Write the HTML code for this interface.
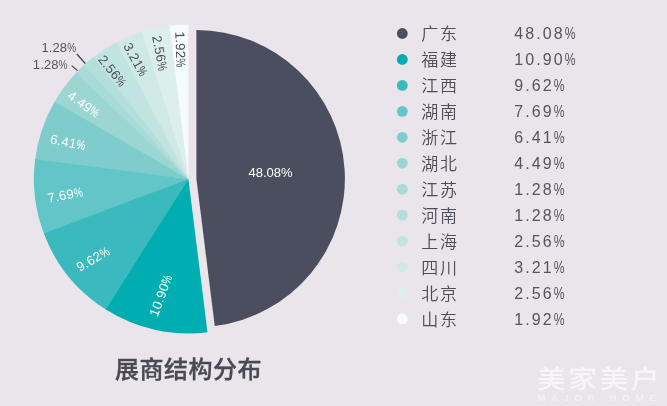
<!DOCTYPE html>
<html lang="zh-CN"><head><meta charset="utf-8"><title>展商结构分布</title>
<style>
html,body{margin:0;padding:0;background:#e9e5ea;}
body{width:667px;height:406px;overflow:hidden;position:relative;font-family:"Liberation Sans","Noto Sans CJK SC",sans-serif;}
svg{position:absolute;left:0;top:0;display:block}
text{font-family:"Liberation Sans","Noto Sans CJK SC",sans-serif;}
.lab{font-size:13px;text-anchor:middle}
.rl{font-size:13.2px;letter-spacing:0.3px}
.lg-n{font-size:17px;font-weight:350;fill:#4d4d58;letter-spacing:1.9px}
.lg-p{font-size:16px;fill:#55555f;letter-spacing:2.1px}
.title{font-size:24px;font-weight:500;fill:#4a4a55;stroke:#4a4a55;stroke-width:0.35px;letter-spacing:0.5px}
.wm1{font-size:25.5px;font-weight:500;fill:#f7f5f8;letter-spacing:2.2px}
.wm2{font-size:9.5px;fill:#f7f5f8;letter-spacing:6px}
</style></head><body>
<svg width="667" height="406" viewBox="0 0 667 406">
<rect width="667" height="406" fill="#e9e5ea"/>
<path d="M196.4 178.6 L196.40 30.10 A148.5 148.5 0 0 1 214.75 325.96 Z" fill="#4a4e5e"/>
<path d="M188.4 179.0 L188.40 24.50 A154.5 154.5 0 0 0 167.70 25.89 Z" fill="#f6fbfb"/>
<path d="M188.4 179.0 L169.57 25.65 A154.5 154.5 0 0 0 140.14 32.23 Z" fill="#dcefec"/>
<path d="M188.4 179.0 L141.94 31.65 A154.5 154.5 0 0 0 114.92 43.09 Z" fill="#d0e9e6"/>
<path d="M188.4 179.0 L116.58 42.21 A154.5 154.5 0 0 0 91.80 58.42 Z" fill="#c2e4e0"/>
<path d="M188.4 179.0 L93.28 57.25 A154.5 154.5 0 0 0 82.44 66.56 Z" fill="#b2dedb"/>
<path d="M188.4 179.0 L83.82 65.27 A154.5 154.5 0 0 0 74.49 74.62 Z" fill="#a8dad7"/>
<path d="M188.4 179.0 L75.77 73.24 A154.5 154.5 0 0 0 53.67 103.39 Z" fill="#9bd6d3"/>
<path d="M188.4 179.0 L54.60 101.75 A154.5 154.5 0 0 0 34.92 161.24 Z" fill="#7fcccc"/>
<path d="M188.4 179.0 L35.15 159.37 A154.5 154.5 0 0 0 44.55 235.37 Z" fill="#62c5c7"/>
<path d="M188.4 179.0 L43.87 233.61 A154.5 154.5 0 0 0 107.44 310.59 Z" fill="#3ab9be"/>
<path d="M188.4 179.0 L105.84 309.59 A154.5 154.5 0 0 0 207.50 332.32 Z" fill="#00adb0"/>
<text class="lab" transform="translate(270.6 172) rotate(0)" x="0" y="4.7" fill="#fff">48.08%</text>
<text class="lab rl" transform="translate(160.6 295.5) rotate(-70)" x="0" y="4.7" fill="#fff">10.90<tspan textLength="9" lengthAdjust="spacingAndGlyphs">%</tspan></text>
<text class="lab rl" transform="translate(92.8 258.9) rotate(-30.3)" x="0" y="4.7" fill="#fff">9.62<tspan textLength="9" lengthAdjust="spacingAndGlyphs">%</tspan></text>
<text class="lab rl" transform="translate(65.2 194.8) rotate(-10.6)" x="0" y="4.7" fill="#fff">7.69<tspan textLength="9" lengthAdjust="spacingAndGlyphs">%</tspan></text>
<text class="lab rl" transform="translate(67.9 142.1) rotate(11.3)" x="0" y="4.7" fill="#fff">6.41<tspan textLength="9" lengthAdjust="spacingAndGlyphs">%</tspan></text>
<text class="lab rl" transform="translate(83.8 104.1) rotate(35.5)" x="0" y="4.7" fill="#fff">4.49<tspan textLength="9" lengthAdjust="spacingAndGlyphs">%</tspan></text>
<text class="lab rl" transform="translate(112.5 70.8) rotate(51)" x="0" y="4.7" fill="#4d4d58">2.56<tspan textLength="9" lengthAdjust="spacingAndGlyphs">%</tspan></text>
<text class="lab rl" transform="translate(135.7 59.5) rotate(61)" x="0" y="4.7" fill="#4d4d58">3.21<tspan textLength="9" lengthAdjust="spacingAndGlyphs">%</tspan></text>
<text class="lab rl" transform="translate(160 53.2) rotate(79)" x="0" y="4.7" fill="#4d4d58">2.56<tspan textLength="9" lengthAdjust="spacingAndGlyphs">%</tspan></text>
<text class="lab rl" transform="translate(180.7 49.5) rotate(88)" x="0" y="4.7" fill="#4d4d58">1.92<tspan textLength="9" lengthAdjust="spacingAndGlyphs">%</tspan></text>
<text class="lab" x="58.8" y="52" fill="#55555f" letter-spacing="0.1">1.28<tspan textLength="9" lengthAdjust="spacingAndGlyphs">%</tspan></text>
<text class="lab" x="50.2" y="68.6" fill="#55555f" letter-spacing="0.1">1.28<tspan textLength="9" lengthAdjust="spacingAndGlyphs">%</tspan></text>
<path d="M76.8 54 L85.3 63.5 M71.7 65.6 L77.5 70.6" stroke="#454550" stroke-width="1.25" fill="none"/>
<text class="title" x="114.9" y="378.2">展商结构分布</text>
<circle cx="402.3" cy="33.50" r="5.4" fill="#4a4e5e"/><text class="lg-n" x="421.2" y="40.20">广东</text><text class="lg-p" x="514.2" y="39.30">48.08<tspan textLength="12.4" lengthAdjust="spacingAndGlyphs">%</tspan></text>
<circle cx="402.3" cy="59.45" r="5.4" fill="#00adb0"/><text class="lg-n" x="421.2" y="66.15">福建</text><text class="lg-p" x="514.2" y="65.25">10.90<tspan textLength="12.4" lengthAdjust="spacingAndGlyphs">%</tspan></text>
<circle cx="402.3" cy="85.40" r="5.4" fill="#3ab9be"/><text class="lg-n" x="421.2" y="92.10">江西</text><text class="lg-p" x="514.2" y="91.20">9.62<tspan textLength="12.4" lengthAdjust="spacingAndGlyphs">%</tspan></text>
<circle cx="402.3" cy="111.35" r="5.4" fill="#62c5c7"/><text class="lg-n" x="421.2" y="118.05">湖南</text><text class="lg-p" x="514.2" y="117.15">7.69<tspan textLength="12.4" lengthAdjust="spacingAndGlyphs">%</tspan></text>
<circle cx="402.3" cy="137.30" r="5.4" fill="#7fcccc"/><text class="lg-n" x="421.2" y="144.00">浙江</text><text class="lg-p" x="514.2" y="143.10">6.41<tspan textLength="12.4" lengthAdjust="spacingAndGlyphs">%</tspan></text>
<circle cx="402.3" cy="163.25" r="5.4" fill="#9bd6d3"/><text class="lg-n" x="421.2" y="169.95">湖北</text><text class="lg-p" x="514.2" y="169.05">4.49<tspan textLength="12.4" lengthAdjust="spacingAndGlyphs">%</tspan></text>
<circle cx="402.3" cy="189.20" r="5.4" fill="#a8dad7"/><text class="lg-n" x="421.2" y="195.90">江苏</text><text class="lg-p" x="514.2" y="195.00">1.28<tspan textLength="12.4" lengthAdjust="spacingAndGlyphs">%</tspan></text>
<circle cx="402.3" cy="215.15" r="5.4" fill="#b2dedb"/><text class="lg-n" x="421.2" y="221.85">河南</text><text class="lg-p" x="514.2" y="220.95">1.28<tspan textLength="12.4" lengthAdjust="spacingAndGlyphs">%</tspan></text>
<circle cx="402.3" cy="241.10" r="5.4" fill="#c2e4e0"/><text class="lg-n" x="421.2" y="247.80">上海</text><text class="lg-p" x="514.2" y="246.90">2.56<tspan textLength="12.4" lengthAdjust="spacingAndGlyphs">%</tspan></text>
<circle cx="402.3" cy="267.05" r="5.4" fill="#d0e9e6"/><text class="lg-n" x="421.2" y="273.75">四川</text><text class="lg-p" x="514.2" y="272.85">3.21<tspan textLength="12.4" lengthAdjust="spacingAndGlyphs">%</tspan></text>
<circle cx="402.3" cy="293.00" r="5.4" fill="#dcefec"/><text class="lg-n" x="421.2" y="299.70">北京</text><text class="lg-p" x="514.2" y="298.80">2.56<tspan textLength="12.4" lengthAdjust="spacingAndGlyphs">%</tspan></text>
<circle cx="402.3" cy="318.95" r="5.4" fill="#f6fbfb"/><text class="lg-n" x="421.2" y="325.65">山东</text><text class="lg-p" x="514.2" y="324.75">1.92<tspan textLength="12.4" lengthAdjust="spacingAndGlyphs">%</tspan></text>
<text class="wm1" transform="translate(537 387.5) scale(1.13 1)">美家美户</text>
<text class="wm2" x="537.5" y="400.6">MAJOR HOME</text>
</svg>
</body></html>
